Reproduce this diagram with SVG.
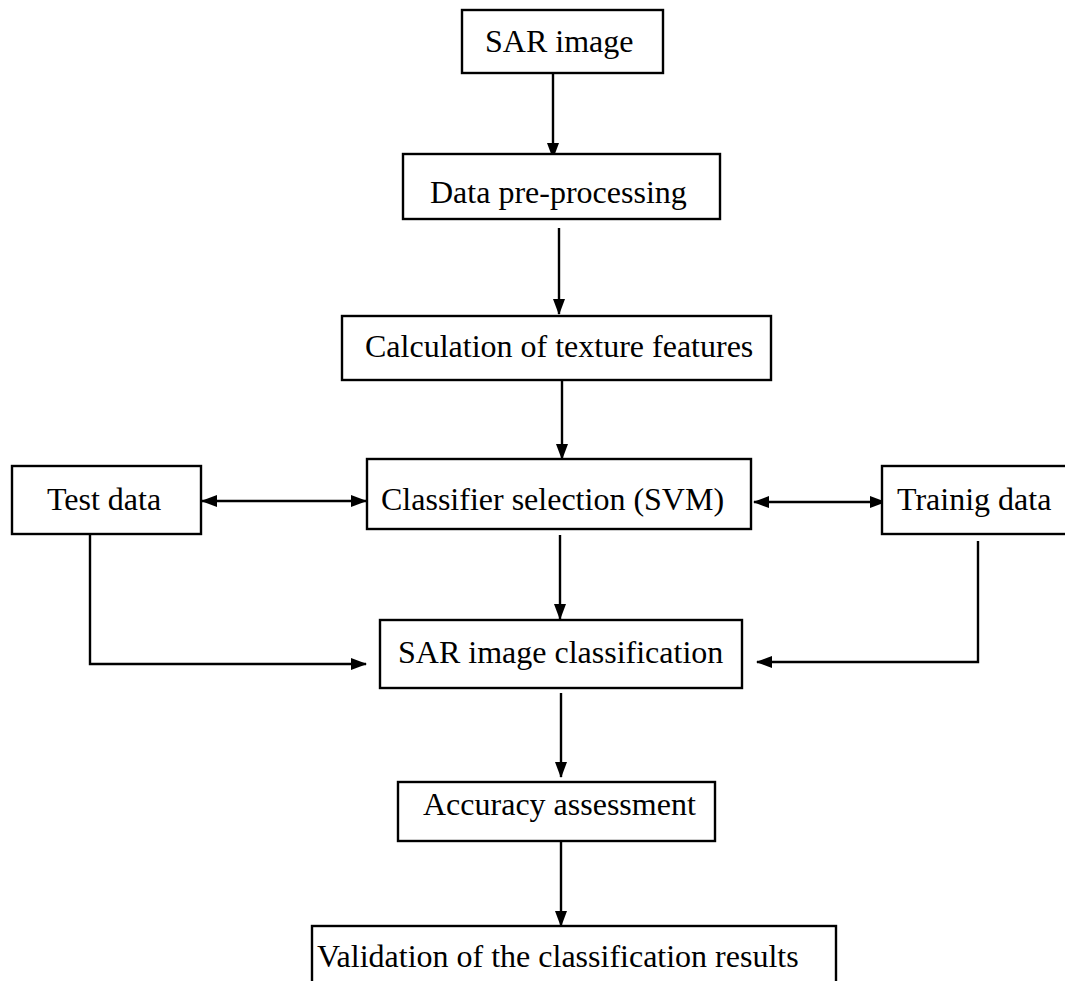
<svg xmlns="http://www.w3.org/2000/svg" width="1065" height="981" viewBox="0 0 1065 981">
<style>
.box{fill:#fff;stroke:#000;stroke-width:2.4}
.lbl{font-family:"Liberation Serif","Times New Roman",serif;font-size:32px;fill:#000}
.con{fill:none;stroke:#000;stroke-width:2.4}
</style>
<defs>
<marker id="ah" markerUnits="userSpaceOnUse" markerWidth="16" markerHeight="12" refX="15" refY="6" orient="auto-start-reverse">
<path d="M0,0 L16,6 L0,12 z" fill="#000"/>
</marker>
</defs>
<rect width="1065" height="981" fill="#fff"/>
<g id="connectors">
<line class="con" x1="553" y1="73" x2="553" y2="158" marker-end="url(#ah)"/>
<line class="con" x1="559" y1="228" x2="559" y2="314" marker-end="url(#ah)"/>
<line class="con" x1="562" y1="376" x2="562" y2="459" marker-end="url(#ah)"/>
<line class="con" x1="202" y1="501" x2="366" y2="501" marker-start="url(#ah)" marker-end="url(#ah)"/>
<line class="con" x1="754" y1="502" x2="885" y2="502" marker-start="url(#ah)" marker-end="url(#ah)"/>
<line class="con" x1="560" y1="535" x2="560" y2="619" marker-end="url(#ah)"/>
<polyline class="con" points="90,534 90,664 366,664" marker-end="url(#ah)"/>
<polyline class="con" points="978,541 978,662 757,662" marker-end="url(#ah)"/>
<line class="con" x1="561" y1="693" x2="561" y2="777" marker-end="url(#ah)"/>
<line class="con" x1="561" y1="842" x2="561" y2="926" marker-end="url(#ah)"/>
</g>
<g id="sar-image">
<rect class="box" x="462" y="10" width="201" height="63"/>
<text class="lbl" x="485" y="52">SAR image</text>
</g>
<g id="data-preprocessing">
<rect class="box" x="403" y="154" width="317" height="65"/>
<text class="lbl" x="430" y="203">Data pre-processing</text>
</g>
<g id="texture-features">
<rect class="box" x="342" y="316" width="429" height="64"/>
<text class="lbl" x="365" y="357">Calculation of texture features</text>
</g>
<g id="test-data">
<rect class="box" x="12" y="466" width="189" height="68"/>
<text class="lbl" x="47" y="510">Test data</text>
</g>
<g id="classifier-selection">
<rect class="box" x="367" y="459" width="384" height="70"/>
<text class="lbl" x="381" y="510">Classifier selection (SVM)</text>
</g>
<g id="training-data">
<rect class="box" x="882" y="466" width="200" height="68"/>
<text class="lbl" x="897" y="510">Trainig data</text>
</g>
<g id="sar-classification">
<rect class="box" x="380" y="620" width="362" height="68"/>
<text class="lbl" x="398" y="663">SAR image classification</text>
</g>
<g id="accuracy-assessment">
<rect class="box" x="398" y="782" width="317" height="59"/>
<text class="lbl" x="423" y="815">Accuracy assessment</text>
</g>
<g id="validation">
<rect class="box" x="312" y="926" width="524" height="70"/>
<text class="lbl" x="317" y="967">Validation of the classification results</text>
</g>
</svg>
